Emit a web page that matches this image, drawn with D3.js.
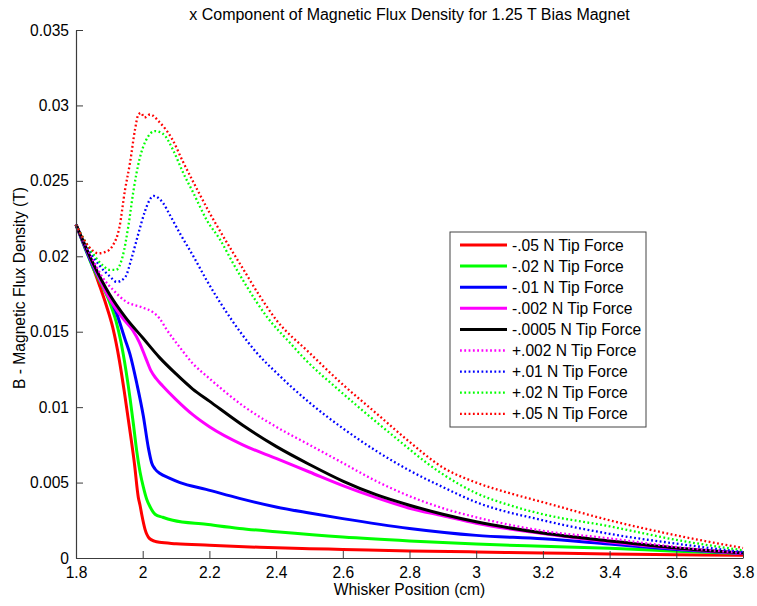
<!DOCTYPE html>
<html>
<head>
<meta charset="utf-8">
<script src="https://cdn.jsdelivr.net/npm/d3@7"></script>
<style>
  html, body { margin: 0; padding: 0; background: #fff; }
  svg { display: block; font-family: "Liberation Sans", Arial, sans-serif; }
</style>
</head>
<body>
<svg id="chart" width="757" height="606"></svg>
<script>
// Bx along the whisker, [position (cm), flux density (T)] for each tip force
const negF05 = [[1.80,0.0221],[1.84,0.0199],[1.87,0.0181],[1.89,0.0168],[1.91,0.0153],[1.93,0.0131],[1.945,0.0110],[1.96,0.0087],[1.975,0.0063],[1.987,0.0040],[1.992,0.0035],[1.997,0.0029],[2.007,0.0019],[2.02,0.0013],[2.035,0.00112],[2.05,0.00104],[2.10,0.00095],[2.20,0.00085],[2.35,0.00071],[2.50,0.00062],[2.60,0.00057],[2.80,0.00047],[3.00,0.00040],[3.20,0.00033],[3.40,0.00027],[3.60,0.00022],[3.80,0.00018]];
const negF02 = [[1.80,0.0221],[1.85,0.0193],[1.90,0.0170],[1.92,0.0157],[1.935,0.0143],[1.95,0.0124],[1.962,0.0106],[1.972,0.0089],[1.982,0.0071],[1.992,0.0057],[2.002,0.0047],[2.012,0.0039],[2.022,0.0034],[2.037,0.0029],[2.06,0.0027],[2.09,0.0025],[2.19,0.00223],[2.29,0.00196],[2.40,0.00174],[2.60,0.00139],[2.80,0.00113],[3.00,0.00092],[3.20,0.00078],[3.40,0.00065],[3.60,0.00045],[3.80,0.00030]];
const negF01 = [[1.80,0.0221],[1.85,0.0194],[1.90,0.0173],[1.922,0.0162],[1.947,0.0145],[1.962,0.0135],[1.982,0.0116],[2.002,0.0094],[2.017,0.0073],[2.027,0.0063],[2.037,0.0059],[2.052,0.0056],[2.08,0.0053],[2.112,0.0050],[2.19,0.00455],[2.29,0.00395],[2.40,0.00338],[2.50,0.00298],[2.60,0.00261],[2.80,0.00196],[3.00,0.00150],[3.20,0.00127],[3.40,0.00092],[3.60,0.00057],[3.80,0.00030]];
const negF002 = [[1.80,0.0221],[1.85,0.0195],[1.90,0.0172],[1.94,0.0159],[1.97,0.0151],[1.99,0.0143],[2.01,0.0132],[2.025,0.0124],[2.04,0.0119],[2.06,0.0114],[2.10,0.0105],[2.15,0.0095],[2.20,0.0087],[2.30,0.0075],[2.40,0.0066],[2.50,0.0057],[2.60,0.0048],[2.70,0.0040],[2.80,0.0033],[2.90,0.0028],[3.00,0.0023],[3.20,0.00162],[3.40,0.00106],[3.60,0.00063],[3.80,0.00030]];
const negF0005 = [[1.80,0.0221],[1.85,0.0196],[1.90,0.0175],[1.95,0.0159],[2.00,0.0146],[2.05,0.0133],[2.10,0.0122],[2.15,0.0112],[2.20,0.0104],[2.30,0.0088],[2.40,0.0074],[2.50,0.0062],[2.60,0.0051],[2.70,0.0042],[2.80,0.0035],[2.90,0.0029],[3.00,0.0024],[3.20,0.00166],[3.40,0.00113],[3.60,0.00066],[3.80,0.00033]];
const posF002 = [[1.80,0.0221],[1.85,0.0198],[1.88,0.0186],[1.91,0.0178],[1.95,0.0170],[2.00,0.0166],[2.03,0.0163],[2.05,0.0159],[2.07,0.0152],[2.11,0.0140],[2.15,0.0129],[2.20,0.0119],[2.30,0.0101],[2.40,0.0087],[2.50,0.0075],[2.60,0.0063],[2.70,0.0051],[2.80,0.0041],[2.90,0.0033],[3.00,0.0027],[3.20,0.0018],[3.40,0.0013],[3.60,0.00073],[3.80,0.00033]];
const posF01 = [[1.80,0.0221],[1.84,0.0204],[1.87,0.0194],[1.90,0.0187],[1.922,0.0183],[1.947,0.0186],[1.967,0.0199],[1.987,0.0215],[2.007,0.0230],[2.02,0.0237],[2.032,0.0240],[2.045,0.0239],[2.062,0.0235],[2.08,0.0228],[2.112,0.0215],[2.152,0.0200],[2.192,0.0184],[2.242,0.0166],[2.292,0.0150],[2.342,0.0136],[2.40,0.0123],[2.50,0.0103],[2.60,0.0086],[2.70,0.0071],[2.80,0.0058],[2.90,0.0047],[3.00,0.0037],[3.20,0.0025],[3.40,0.0016],[3.60,0.00095],[3.80,0.00040]];
const posF02 = [[1.80,0.0221],[1.85,0.0202],[1.88,0.0194],[1.90,0.0191],[1.92,0.0191],[1.94,0.0200],[1.957,0.0220],[1.972,0.0243],[1.99,0.0264],[2.01,0.0277],[2.037,0.0283],[2.062,0.0281],[2.092,0.0270],[2.122,0.0255],[2.152,0.0242],[2.192,0.0224],[2.232,0.0211],[2.272,0.0195],[2.312,0.0180],[2.372,0.0160],[2.44,0.0143],[2.49,0.0131],[2.59,0.0111],[2.74,0.0083],[2.89,0.0057],[3.00,0.0043],[3.10,0.0035],[3.20,0.0029],[3.40,0.0021],[3.60,0.0012],[3.80,0.00051]];
const posF05 = [[1.80,0.0221],[1.84,0.0206],[1.867,0.0202],[1.89,0.0203],[1.91,0.0207],[1.93,0.0219],[1.947,0.0244],[1.962,0.0262],[1.977,0.0284],[1.987,0.0294],[1.995,0.0295],[2.005,0.0292],[2.022,0.0294],[2.05,0.0289],[2.09,0.0277],[2.12,0.0263],[2.15,0.0250],[2.20,0.0229],[2.25,0.0210],[2.30,0.0192],[2.35,0.0174],[2.40,0.0158],[2.50,0.0136],[2.60,0.0115],[2.70,0.0096],[2.80,0.0077],[2.90,0.0060],[3.00,0.0050],[3.10,0.0043],[3.20,0.0037],[3.40,0.0025],[3.60,0.0015],[3.80,0.00066]];

const seriesData = [negF05, negF02, negF01, negF002, negF0005, posF002, posF01, posF02, posF05];
const seriesNames = ["-.05 N Tip Force", "-.02 N Tip Force", "-.01 N Tip Force", "-.002 N Tip Force",
  "-.0005 N Tip Force", "+.002 N Tip Force", "+.01 N Tip Force", "+.02 N Tip Force", "+.05 N Tip Force"];
const seriesColors = ["#ff0000", "#00ff00", "#0000ff", "#ff00ff", "#000000", "#ff00ff", "#0000ff", "#00ff00", "#ff0000"];
const seriesDotted = [false, false, false, false, false, true, true, true, true];

const xTicks = [1.8, 2.0, 2.2, 2.4, 2.6, 2.8, 3.0, 3.2, 3.4, 3.6, 3.8];
const yTicks = [0, 0.005, 0.01, 0.015, 0.02, 0.025, 0.03, 0.035];

const chartTitle = "x Component of Magnetic Flux Density for 1.25 T Bias Magnet";
const xTitle = "Whisker Position (cm)";
const yTitle = "B - Magnetic Flux Density (T)";

const W = 757, H = 606;
const margin = { left: 76, right: 14, top: 30, bottom: 48 };
const plotW = W - margin.left - margin.right;
const plotH = H - margin.top - margin.bottom;
const labelSize = 15.6;
const dotDash = "1.8,2.5";

const svg = d3.select("#chart");
svg.append("rect").attr("width", W).attr("height", H).attr("fill", "#fff");

const x = d3.scaleLinear().domain([1.8, 3.8]).range([0, plotW]);
const y = d3.scaleLinear().domain([0, 0.035]).range([plotH, 0]);

const g = svg.append("g").attr("transform", `translate(${margin.left},${margin.top})`);

// curves
const line = d3.line()
  .x(d => x(d[0]))
  .y(d => y(d[1]))
  .curve(d3.curveMonotoneX);

seriesData.forEach((data, i) => {
  g.append("path")
    .datum(data)
    .attr("fill", "none")
    .attr("stroke", seriesColors[i])
    .attr("stroke-width", seriesDotted[i] ? 2.3 : 3)
    .attr("stroke-dasharray", seriesDotted[i] ? dotDash : null)
    .attr("stroke-linejoin", "round")
    .attr("d", line);
});

// axes, ticks pointing inward
const fmt = d => String(+d.toFixed(3));
const xAxis = g.append("g")
  .attr("transform", `translate(0,${plotH})`)
  .call(d3.axisBottom(x).tickValues(xTicks).tickFormat(fmt).tickSize(-7).tickSizeOuter(0).tickPadding(9));
const yAxis = g.append("g")
  .call(d3.axisLeft(y).tickValues(yTicks).tickFormat(fmt).tickSize(-7).tickSizeOuter(0).tickPadding(7));

[xAxis, yAxis].forEach(a => {
  a.select(".domain").attr("stroke", "#3c3c3c").attr("stroke-width", 1.2);
  a.selectAll(".tick line").attr("stroke", "#3c3c3c");
  a.selectAll(".tick text").attr("font-size", labelSize).attr("fill", "#000")
    .attr("font-family", '"Liberation Sans", Arial, sans-serif');
});

// titles
svg.append("text")
  .attr("x", margin.left + plotW / 2).attr("y", 20)
  .attr("text-anchor", "middle").attr("font-size", 16)
  .text(chartTitle);
svg.append("text")
  .attr("x", margin.left + plotW / 2).attr("y", 595)
  .attr("text-anchor", "middle").attr("font-size", labelSize)
  .text(xTitle);
svg.append("text")
  .attr("transform", "translate(25,288) rotate(-90)")
  .attr("text-anchor", "middle").attr("font-size", labelSize)
  .text(yTitle);

// legend
const legend = svg.append("g").attr("transform", "translate(450,232)");
legend.append("rect")
  .attr("width", 196).attr("height", 195)
  .attr("fill", "#fff").attr("stroke", "#444").attr("stroke-width", 1);
seriesNames.forEach((name, i) => {
  const ry = 13 + i * 21.1;
  legend.append("line")
    .attr("x1", 10).attr("x2", 57).attr("y1", ry).attr("y2", ry)
    .attr("stroke", seriesColors[i])
    .attr("stroke-width", seriesDotted[i] ? 2.3 : 3)
    .attr("stroke-dasharray", seriesDotted[i] ? dotDash : null);
  legend.append("text")
    .attr("x", 62).attr("y", ry + 5.5)
    .attr("font-size", labelSize)
    .text(name);
});
</script>
</body>
</html>
